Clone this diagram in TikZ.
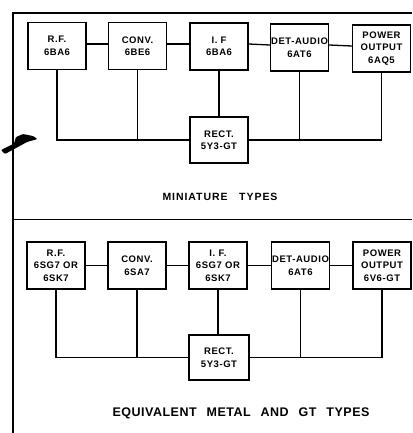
\documentclass[tikz,border=0pt]{standalone}
\usepackage{fontspec}
\setmainfont{Liberation Sans}
\newfontfamily\capfamA[LetterSpace=9,WordSpace=3]{Liberation Sans Bold}
\newfontfamily\capfamB[LetterSpace=4,WordSpace=2.5]{Liberation Sans Bold}
\newcommand\tubefont{\fontsize{9.5}{12.5}\selectfont\bfseries\addfontfeature{LetterSpace=6}}
\newcommand\titlefontA{\capfamA\fontsize{10.5}{12}\selectfont}
\newcommand\titlefontB{\capfamB\fontsize{12.5}{14}\selectfont}
\tikzset{
  tube/.style={draw, line width=1.4pt, minimum width=58pt, minimum height=47pt,
               inner sep=0pt, align=center, font=\tubefont},
  wire/.style={line width=1.3pt},
  frame/.style={line width=1.5pt},
  caption/.style={inner sep=0pt}
}
\begin{document}
\begin{tikzpicture}[x=1pt,y=-1pt]
\useasboundingbox (0,0) rectangle (412,433);
% frame
\draw[frame] (13,433) -- (13,13) -- (412,13);
\draw[frame] (13,219.5) -- (412,219.5);
% ink blot
\fill[rounded corners=1pt] (1,150) -- (14,143.5) -- (16,137) -- (23,134) -- (33,136) -- (37.5,139)
      -- (27,142) -- (17,147.5) -- (5,154) -- cycle;
% miniature types
\node[tube] (rf1) at (57,46) {R.F.\\6BA6};
\node[tube] (conv1) at (137.5,46) {CONV.\\6BE6};
\node[tube] (if1) at (219,46.5) {I. F\\6BA6};
\node[tube] (det1) at (299.5,47.5) {DET-AUDIO\\6AT6};
\node[tube] (pwr1) at (381.5,48.5) {POWER\\OUTPUT\\6AQ5};
\node[tube, minimum height=46pt] (rect1) at (219,140) {RECT.\\5Y3-GT};
\draw[wire] ([yshift=2pt]rf1.east) -- ([yshift=2pt]conv1.west);
\draw[wire] ([yshift=2pt]conv1.east) -- ([yshift=2.5pt]if1.west);
\draw[wire] ([yshift=2.5pt]if1.east) -- ([yshift=2.5pt]det1.west);
\draw[wire] ([yshift=2.5pt]det1.east) -- ([yshift=2.5pt]pwr1.west);
\draw[wire] (rf1.south) |- (rect1.west);
\draw[wire] (conv1.south) -- (conv1.south |- rect1.west);
\draw[wire] (if1.south) -- (rect1.north);
\draw[wire] (det1.south) -- (det1.south |- rect1.east);
\draw[wire] (pwr1.south) |- (rect1.east);
\node[caption, font=\titlefontA] (t1) at (220,197) {MINIATURE TYPES};
% equivalent metal and GT types
\node[tube] (rf2) at (56,265.5) {R.F.\\6SG7 OR\\6SK7};
\node[tube] (conv2) at (137,265.5) {CONV.\\6SA7};
\node[tube] (if2) at (218,265.5) {I. F.\\6SG7 OR\\6SK7};
\node[tube] (det2) at (300.5,265.5) {DET-AUDIO\\6AT6};
\node[tube] (pwr2) at (382,265.5) {POWER\\OUTPUT\\6V6-GT};
\node[tube, minimum width=60pt, minimum height=45pt] (rect2) at (219,357.5) {RECT.\\5Y3-GT};
\draw[wire] (rf2) -- (conv2);
\draw[wire] (conv2) -- (if2);
\draw[wire] (if2) -- (det2);
\draw[wire] (det2) -- (pwr2);
\draw[wire] (rf2.south) |- (rect2.west);
\draw[wire] (conv2.south) -- (conv2.south |- rect2.west);
\draw[wire] (if2.south) -- (if2.south |- rect2.north);
\draw[wire] (det2.south) -- (det2.south |- rect2.east);
\draw[wire] (pwr2.south) |- (rect2.east);
\node[caption, font=\titlefontB] (t2) at (241,413) {EQUIVALENT METAL AND GT TYPES};
\end{tikzpicture}
\end{document}
